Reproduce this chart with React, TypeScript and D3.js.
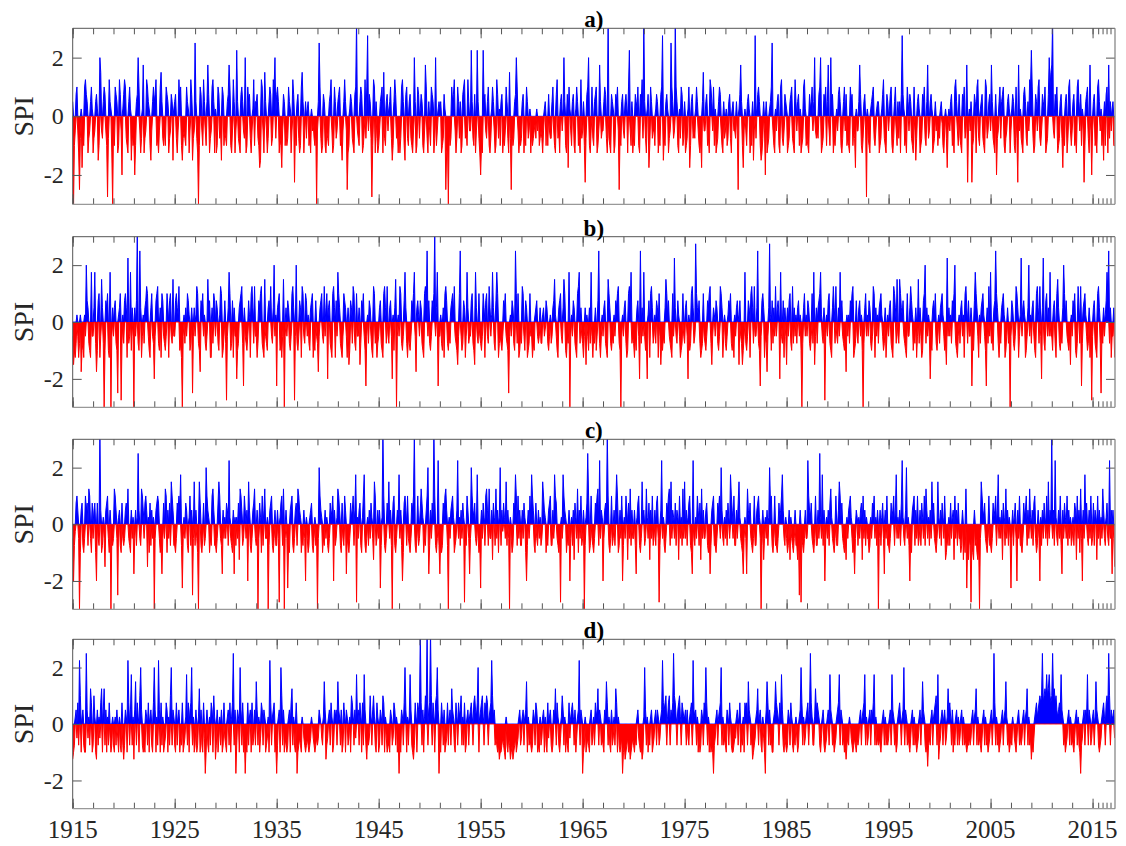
import { useEffect, useRef } from "react";
import * as d3 from "d3";

// Monthly SPI, one string per decade, one 12-letter group per year (Jan..Dec).
// Letter code: A = -3.0, M = 0, Y = +3.0 in steps of 0.25; Z = above the axis.
const spiA = [
  "OAIKPQKHCJNF JIQRPOHJKOQN HJKOPNGIUSKJ OQPKIBJRONHA KIQPOHIRPKEN PRQJIHOQNGKI JEIOPUQKHJNT HJKRQONIGKOQ OPRIJHKQSOJI KIQPOHJKPOGN",
  "OPJHKROQIGJK JIQONHKRPGJK WOJHAIQPKIRO KIOTPHJKQROH NHIQPJKGQPIK JIOPTQIHKROH KVOJIHPQOKJU HIQOPJHKNRIO OPJIFGRQKHSO KHJOQPIJRQUJ",
  "PQOHJIFKPOIK IJQONHKRPDKI OPJHIQSOHKOJ NOIJHNKLJIKA KOWQJHIPOIHK JIOPRKHIQOJK OPQIJGKOROKC HINPOJIHPQZK JIOQPHIKRJQX KPOJBIRQHOJH",
  "IKOPQHSJIOPK NOQJGIORPJKH KHJQROIGPQJI OPJIHKUOHIQP JNPOIHKTQJHO KIQPOHJUIKNO NOHIJPNCHIAK IJQOPRKHJQOJ OHIPQRJKIROK KVOJIPHKVOJH",
  "EIHVOPKJOQIH JNQOKHIRPJNI OPHJIKQOJHSJ CKIJOPUQKHJI JOPHKIQOJKNH KIJKLJNKMIJK JHKNOIMIPKJJ OQKIHPRJKHOP KNUOIHPFQNKI OPIHNQOIJHRJ",
  "KOIDJPQUIHKQ JIOPQHIKTOJK KOQPJHZJIHPO NHIPOQKCJIOP KJOPNHQVKIOH JIPONQIHPORJ ZOJHNPFIQOJK KINPOHJIPQXG JIOPNHJKWQOJ KZQOIHNJQPIJ",
  "OHIJNQFIOPJK JNQOKIHJFOSK KOPIJHRQOKQI NHIJOQPKIHOJ KNIJOPJHNOKK JOKCNPTOIFKN KIOPNHJIOGKX JNPQOIGHJOKE OHIJNOQWKIHN KOPIHQRJIKPO",
  "NHIJOPQJIHRO KOPINHIJQRNI JIHPNOQKOUKJ KJPQUHIJPOQI OTKIUNPHJIKN KPQOIHJOQKPI JIHQOPIKJFNK KOTPIHJOPKBN JIHNOPQJIKNO OHIJNPRJIHPO",
  "KNPQIHJOQKIO JOHPXPNIJHQO KPOJIHQKGJOP NHIJPOQJIOTJ KOPNHIJOKLIK JNOLIHKNJFKN KOPIJHQROKIP JIHPOQJKTDKN KODIJPOHQRJI NOPJIHRQJKOP",
  "KTOJIHPEJKOQ JOPQIHJKOPNH KNPOIHQJDTKN JIHPQOJIOKRQ VQJHIPOKQRJI KPONQHIJPUQS TZKJPOQHIJOP JFKIOPHJQRKI KOPIJHQROKPI NKDIOPQJHTKE",
  "KOPIJHQROKNI KGOIPQHTJOKN OII",
];

const spiB = [
  "KGIHJNKHJNFI JHNKUPOJIHTK KOTJFIPQHKSO JAIPOQIHTAKO KOPJICNOQBJN JPQOHVJKTIOK AOKPZJIWOHKN JOPRQKIHOQKJ EKPQRJIOHQPK JIKQOHPQKJSK",
  "KPQONRIJHAKN JOKQPNIJOCKO KNRQJIFPOQKN JIKSOPHHOJQP KPOJINRQHIKP JBKOTQIJPHOK KEIJOPQRJDOK JIKPNHQROJRK KHJPOQRJIHSK JIOPNRKJOUKN",
  "DOPQIJHKSAKO KPOJIKQROBKU JIKPOHRQKJQP KNJIOPQHJIPK JFKOPQKJRKOQ EOPJIHQROHPK TQOJIHKQPOKH OGIPOJRQJIQK KOGJPOQKIDKN JPOKIHRQJKHJ",
  "KOPJIHQROJRK JOPKENIOSAKN KRQJIKPTOJHK JIKPOQTKFOPN KPOJIHQROWKP JIKPOQZKOTDK KNJIOHQRPJIK JOPQNRKJIGKQ WKIJPOHKTOJK KPQJIGTOKJQK",
  "JIKQOHPQKJRO KNTOJIPTQHJK JIKPOQKJICKN KPOJIWQJQHIK JRQKIPOHIJQK KHJINOPKJKOJ JNOKLPOJIKNJ KOPSNKIHOPQK JOSQIHKJTAKN KPOJIHQRTJOK",
  "JHKOGNKIOJTK HKJOIKPWJHKN KOPJIHSQOJIK JNKPOQRJIAKN KOPJHIQROTJK JHKIOPKEWJOK TKIJENPHQROJ KNJPOHQKGJIK JOSQNPKJIHQK VOKJPNKHIJQK",
  "JOPKENIJQROJ KXQONPJHIJQK JIKPOQRJGKON KPOJIKRQOHKN JIKNPOQJIKHN KOPNGPKJGIKT JIKPOHQROJRK KOWJIDKPQOHK JFKOXNIPJOKR KOPNETKJPHOK",
  "GOKPQJIRJOKN JOPKNIAJOQKN KPOJIKQJTGKO JOPQTNKJOBKN KPQJIHOROJRK JOKTNPKJIKFN KNJPOQRHIJPK JOPKNIAJOQKN KPOJIKRQHOKN JOPQNKIJOHKN",
  "KOPJIHRQOJSK JSQONPKJIHQK KORPNIKJOHKS JOKHIPQUJOKN KEJIOPNQJIKN JOPQNKIJGVKO KNJPOQUJIHKN JOPKNHQROJPK KODJIPTQOKHN JOPQNKIDOJRK",
  "TJKIOPWQOJHK JOPQNHIKOJKA KPOJIKRQOHKN VKOPNHIKOUKN JOPKIHQROJRK EOVJIPQKOKTK KIOPJHQSOJIK JOUQNPKJIKGN KPOQIHJROJRD JOPQNKIJOHKB",
  "KOPJIHQROJCK JOKNPTQWJOHK KOH",
];

const spiC = [
  "KEJLPQOKAIOP JIKQOPJRQKIP KOPIEPKJZOIJ NKGOPQKIOAKJ KRQOKCNOJIPK JKOPNRKJIOKN FKOJNWOKJRQO KPQOGNIPJOKN AKOPQPKIJFKP KRQIOKPJSQOJ",
  "JIKPOQOTJDKN KPOJINQJOCKS JOKIASPJIKPJ KUQONIKJQROJ JIKPSQKJFOKN KPOJVNKJIOFN JNKPHRQOJKQO KOESOJIKOPRK JOAKPNIQJORK KNAJOPQJIKOJ",
  "JOKBNPQJRAKO KDJIOPQJIKOP JRQONIKJOKEN KIJNOPJIKNJK AKUQONIKJOKN JIKPNOQEOJKN RQOJIPKJQOFK JIKPNOQJOTBN KOPJINQTJIKN JOKPNKHSQJKO",
  "KODJNZQJIKPN SKOJAPQJIKON TKOJEIPQOJQK JIKPOQZJIKQJ KORPNIKJOQUF JOKPNZQJIKVJ FKIJPNQROJAN KOPQNIJKOVKN JOKPNBKJQOKF KUQONPKJTKIJ",
  "DOKPNJQROJRK KOHPNJRKOINU JOLPNKSJOKAN KIJPOTQJQKOJ JOKPNIEJOKQN TQOJIPKJOKNJ KSQONIKJOPQJ JOKTQPKJIKBN KTQONIKJOEKN JOHPNKRIOKQJ",
  "KOAJNPWQIJQK JIKPOQRJVKON EKOPNZQJIKQJ KOJPTQIJOKQE JNKQOHPKRJOK KOJFNPQJIKSN OJKRNKPHOKQJ KOJPQKBJOVKN JIKPOQRJSKON KPJONHQKNJRK",
  "SKOJNPQJIFVK JNKQOJPHRKOK KOPJIKFJOPQJ JIKPOQKUOKJN KOJPNKTQOKQJ JOKPSNKJIFKN KFRONPKJIKQJ JOPQNKAJOHKN KOJNUPQJIKQJ JIKPNOQTOKJN",
  "KIJOHNKJIKOJ JHKCOBKJIKOK KVQONPKJIKQJ JOKWNKTJOEKN KOJPRNKJIKQJ JOSQNPKJIKHN KOPQNKIJFKON JNKOPHQKOJNK KIJNKPOQKNJO AKOJNPKFOKQJ",
  "JIKPNOQJOTKN KOJPVNKJOUKN JEKIOPQJOKQJ KOJPNKQJROKN JOKSNPKJIKSN KOJPNKQHIKJN JPKNOHQKOJPK KIJOHKIRDJHK JBKIHOJKIHJA KSQONPKJIKQJ",
  "JIKPNOQJOTKN KOHPNJRKOJNK DKOJNPKEOKQJ JIKPNOQJOKRN KOJPQKIJOKEN JOKPNKQJSKON ZKOJVNKJOKQJ FOKPNKQJOKNJ KNJPOHQKOIRK EOKTNPKJOKQJ",
  "KPJONHQKOJNK ROKJNPKJVKOF OKG",
];

const spiD = [
  "HIJNOKPJVQIN OJIIWOKNJRPI JQNIHOJNKPRI ORJOINJPKIJN JINJOKINJIPJ HJONIVPJOTJN HOSJPNIQUOJI JIONJPINOJIP UOINJVOIPJNI JKPOINJQUJON",
  "JIPJNOIKJPIJ KNTJPIOPUJNI JOIJNRIOJIPK FIOJINJPOIQN HJOIKNJOIJPK JINOJPINPWJO FJONIUOJPIKF JIPJNOIPJKOJ SOJNIKPOJONI JKNIVPJNOPIJ",
  "FJNOIUQJOIKJ IJNOIPRJNJIP FIJKJINMKJIJ KJIJKNMKJIJK JKONMKJNSOHJ KNOJPNIJONOJ SONJOIJPNION JKNIQPNJOKTN OJPNIPJTOJHK JKQNJOQNJIPN",
  "IJONJQPINKIJ JIONJKPOJNIK FJIONJPUOINJ NTOJIHJPNIPO OZPJOINQPZJO PZQJPNIPQUOF JIPNJOIJKPJN OJRONJIPNJPN OQJNJPIJNOJN OPNJPQONPUIN",
  "OPQNJPOQPJNO PVQNOJKJIJHI IJKJIHNJIKJH IJHIJKIJKNOJ KNOJNOSINJKJ IJONJPOIJINJ KNOINJIPKNOJ IJONRJPNJIKN QOJNIKJIPKNO PNJOIKNOVJON",
  "FIJNIJKJINOJ KNJPNORJONJK JIONSPJNJIOJ KNJRPINJIJKF IJHIJKIJHIJK JIKJNOKJIJHI NUOJNIKJNOIJ KNOJONJKNOVP OPQJNPQJONPW QPNJOPQNJPON",
  "NOJOKJNOPJVO NOJNIKIJONJP OUPJNIKIJIFJ KNOJNOPUJNJK JIONJPNJIIJK KNOJNPIKJNIP OPJSONJKHIJK NORJNOJINKIF OSPJOJKIINOS PONJPNTOJIKJ",
  "IJONJPNJIKJN KIJNOUPJNJKN OPJOWPNJJNRO PONJIKNOJIJK NOJTONJKIJKN OPTJONJKIJHJ KJNMKJIJKJIK JKNOJNOPTJNJ KNOJONPTJNJK JKJIKNOJNJKJ",
  "KNOJTONJKIJN OPNJNOUJONJK JIKNOJNJKIJK NOJNSONJIJGJ KJNOJNOPQJTH JKNOJNOJKNRO PNJOIKJNOJNJ KNOJNJKJIJJK JKNOJNORJNJK JIKNOJNJKIJK",
  "NOJNWPJNJKIJ KNOJNOSNJKIJ KJNMKJIKNOJK JKNOJNORJNJK HJIKNOPNOPQP QWPQRQTQRTQP QWQRPQONOPOT ONJKIJKNOJNJ KJIKNOJNJIFJ KNOJONTJONJK",
  "NOJNSONJIJKN OPNJPQOWQJON NOK",
];

const panelTitles = ["a)", "b)", "c)", "d)"];
const yearLabels = ["1915", "1925", "1935", "1945", "1955", "1965", "1975", "1985", "1995", "2005", "2015"];
const minorYears = d3.range(1915, 2016, 2);
const endTicks = [2015.55, 2015.98, 2016.37, 2016.76];
const spiTicks = [-2, 0, 2];

type Pt = { t: number; v: number };

function decode(decades: string[]): Pt[] {
  const out: Pt[] = [];
  decades.forEach((dec, di) => {
    dec.split(" ").forEach((yr, yi) => {
      for (let m = 0; m < yr.length; m++) {
        out.push({ t: 1915 + di * 10 + yi + m / 12, v: (yr.charCodeAt(m) - 77) * 0.25 });
      }
    });
  });
  return out;
}

const FONT = "'Liberation Serif', 'Times New Roman', serif";

function App() {
  const svgRef = useRef<SVGSVGElement>(null);

  useEffect(() => {
    const svg = d3.select(svgRef.current);
    svg.selectAll("*").remove();

    const left = 72.7;
    const right = 1115;
    const boxes = [
      [28.3, 204.3],
      [236.7, 407.3],
      [439.3, 609.3],
      [639.3, 808.7],
    ];

    const x = d3.scaleLinear().domain([1915, 2017.2]).range([left, right]);
    const series = [spiA, spiB, spiC, spiD].map(decode);

    series.forEach((data, i) => {
      const [top, bottom] = boxes[i];
      const y = d3.scaleLinear().domain([-3, 3]).range([bottom, top]);
      const g = svg.append("g");

      svg.append("clipPath").attr("id", `clip${i}`)
        .append("rect")
        .attr("x", left).attr("y", top)
        .attr("width", right - left).attr("height", bottom - top);

      const plot = g.append("g").attr("clip-path", `url(#clip${i})`);

      const up = d3.area<Pt>().x(d => x(d.t)).y0(y(0)).y1(d => y(Math.max(0, d.v)));
      const upLine = d3.line<Pt>().x(d => x(d.t)).y(d => y(Math.max(0, d.v)));
      const down = d3.area<Pt>().x(d => x(d.t)).y0(y(0)).y1(d => y(Math.min(0, d.v)));
      const downLine = d3.line<Pt>().x(d => x(d.t)).y(d => y(Math.min(0, d.v)));

      plot.append("path").attr("d", up(data)).attr("fill", "#0000ff");
      plot.append("path").attr("d", upLine(data)).attr("fill", "none")
        .attr("stroke", "#0000ff").attr("stroke-width", 1);
      plot.append("path").attr("d", down(data)).attr("fill", "#ff0000");
      plot.append("path").attr("d", downLine(data)).attr("fill", "none")
        .attr("stroke", "#ff0000").attr("stroke-width", 1);

      // ticks on all four sides, pointing inward
      const xb = (vals: number[], size: number) => d3.axisBottom(x).tickValues(vals).tickSize(-size).tickFormat(() => "");
      const xt = (vals: number[], size: number) => d3.axisTop(x).tickValues(vals).tickSize(-size).tickFormat(() => "");
      const majors = yearLabels.map(Number);
      [[minorYears, 6], [endTicks, 6], [majors, 10]].forEach(([vals, size]) => {
        g.append("g").attr("transform", `translate(0,${bottom})`).attr("color", "#555")
          .call(xb(vals as number[], size as number)).select(".domain").remove();
        g.append("g").attr("transform", `translate(0,${top})`).attr("color", "#555")
          .call(xt(vals as number[], size as number)).select(".domain").remove();
      });

      const yl = g.append("g").attr("transform", `translate(${left},0)`).attr("color", "#555")
        .call(d3.axisLeft(y).tickValues(spiTicks).tickSize(-9).tickPadding(9).tickFormat(d => String(d)));
      yl.select(".domain").remove();
      yl.selectAll("text").attr("font-family", FONT).attr("font-size", 24).attr("fill", "#262626");

      g.append("g").attr("transform", `translate(${right},0)`).attr("color", "#555")
        .call(d3.axisRight(y).tickValues(spiTicks).tickSize(-9).tickFormat(() => ""))
        .select(".domain").remove();

      // frame
      g.append("line").attr("x1", left).attr("x2", right).attr("y1", top).attr("y2", top).attr("stroke", "#555");
      g.append("line").attr("x1", left).attr("x2", left).attr("y1", top).attr("y2", bottom).attr("stroke", "#555");
      g.append("line").attr("x1", left).attr("x2", right).attr("y1", bottom).attr("y2", bottom).attr("stroke", "#999").attr("stroke-width", 1.3);
      g.append("line").attr("x1", right).attr("x2", right).attr("y1", top).attr("y2", bottom).attr("stroke", "#888").attr("stroke-width", 1.3);

      g.append("text")
        .attr("transform", `translate(33,${(top + bottom) / 2}) rotate(-90)`)
        .attr("text-anchor", "middle")
        .attr("font-family", FONT).attr("font-size", 28).attr("fill", "#262626")
        .text("SPI");

      g.append("text")
        .attr("x", (left + right) / 2).attr("y", top - 1)
        .attr("text-anchor", "middle")
        .attr("font-family", FONT).attr("font-size", 23).attr("font-weight", "bold").attr("fill", "#000")
        .text(panelTitles[i]);

      if (i === 3) {
        g.selectAll(".year").data(yearLabels).enter().append("text")
          .attr("x", d => x(+d)).attr("y", 838)
          .attr("text-anchor", "middle")
          .attr("font-family", FONT).attr("font-size", 25).attr("fill", "#262626")
          .text(d => d);
      }
    });
  }, []);

  return (
    <svg ref={svgRef} width={1126} height={846}
      style={{ position: "absolute", left: 0, top: 0, background: "#fff" }} />
  );
}

export default App;
